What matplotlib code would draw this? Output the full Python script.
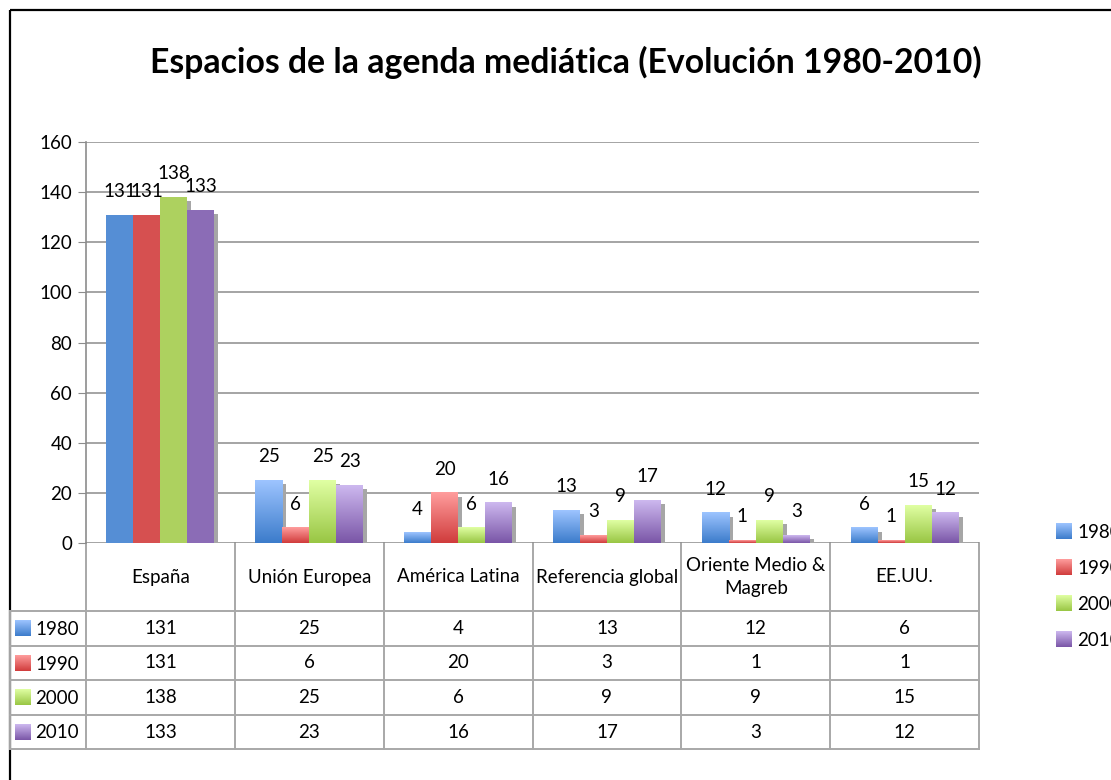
import numpy as np
import matplotlib
matplotlib.use("Agg")
import matplotlib.pyplot as plt
from matplotlib.colors import LinearSegmentedColormap
from matplotlib.patches import Rectangle

plt.rcParams['font.family'] = ['Lato', 'DejaVu Sans']

title = "Espacios de la agenda mediática (Evolución 1980-2010)"
categories = ["España", "Unión Europea", "América Latina", "Referencia global",
              "Oriente Medio &\nMagreb", "EE.UU."]
series_names = ["1980", "1990", "2000", "2010"]
v1980 = [131, 25, 4, 13, 12, 6]
v1990 = [131, 6, 20, 3, 1, 1]
v2000 = [138, 25, 6, 9, 9, 15]
v2010 = [133, 23, 16, 17, 3, 12]
series = [v1980, v1990, v2000, v2010]
yticks = [0, 20, 40, 60, 80, 100, 120, 140, 160]

solid = ["#558ED5", "#D65050", "#ADD15F", "#8B6CB6"]
grad_top = ["#9DC4FF", "#FF9D9D", "#E0FFA3", "#CDB8EF"]
grad_bot = ["#3C7CCB", "#D03C3C", "#99C644", "#7A56A7"]

FS = 13.5
W, H = 1111, 780
fig = plt.figure(figsize=(W / 100, H / 100), dpi=100)
fig.patch.set_facecolor("white")

# plot area in pixels
L, R, T, B = 86, 979, 142, 543
ax = fig.add_axes([L / W, 1 - B / H, (R - L) / W, (B - T) / H])
ax.set_facecolor("none")
ax.set_xlim(-0.5, 5.5)
ax.set_ylim(0, 160)
ax.set_yticks(yticks)
ax.set_xticks([])
for s in ["top", "right", "bottom"]:
    ax.spines[s].set_visible(False)
ax.spines["left"].set_color("#8C8C8C")
ax.spines["left"].set_linewidth(1.2)
ax.tick_params(axis="y", length=6, color="#8C8C8C", labelsize=FS, pad=4)
ax.yaxis.grid(True, color="#8C8C8C", lw=1.1)
ax.set_axisbelow(True)

bw = 27 / ((R - L) / 6)
x = np.arange(len(categories))
sdx = 4 / ((R - L) / 6)
sdy = 4 * 160 / (B - T)

# shadows
for k, vals in enumerate(series):
    xs = x + (k - 1.5) * bw + sdx
    ax.bar(xs, [max(v - sdy, 0) for v in vals], width=bw, color="#A6A6A6", zorder=2)

grad = np.linspace(0, 1, 100).reshape(-1, 1)
for k, vals in enumerate(series):
    xs = x + (k - 1.5) * bw
    cmap = LinearSegmentedColormap.from_list("g%d" % k, [grad_bot[k], grad_top[k]])
    bars = ax.bar(xs, vals, width=bw, color=solid[k], zorder=3, label=series_names[k])
    for i, p in enumerate(bars):
        if i > 0:
            p.set_alpha(0)
            ax.imshow(grad, extent=[p.get_x(), p.get_x() + p.get_width(), 0, p.get_height()],
                      origin="lower", cmap=cmap, aspect="auto", zorder=3)
        ax.annotate(str(vals[i]), (p.get_x() + p.get_width() / 2, p.get_height()),
                    xytext=(0, 17), textcoords="offset points", ha="center", va="center",
                    fontsize=FS, zorder=5)
ax.set_xlim(-0.5, 5.5)
ax.set_ylim(0, 160)

# overlay in pixel coordinates
ov = fig.add_axes([0, 0, 1, 1], zorder=-1)
ov.set_xlim(0, W)
ov.set_ylim(H, 0)
ov.axis("off")

# outer frame
ov.add_patch(Rectangle((10, 10), 1200, 900, fill=False, ec="black", lw=1.6))

ov.text(566, 62, title, ha="center", va="center", fontsize=24.3, fontweight="bold")

# data table
gc = "#A8A8A8"
cw = (R - L) / 6
rows = [543, 611, 646, 680, 715, 749]
for i in range(7):
    ov.plot([L + i * cw, L + i * cw], [543, 749], color=gc, lw=1.4)
ov.plot([10, 10], [611, 749], color=gc, lw=1.4)
for yy in rows[1:]:
    ov.plot([10, R], [yy, yy], color=gc, lw=1.4)
for i, c in enumerate(categories):
    ov.text(L + (i + 0.5) * cw, 577, c, ha="center", va="center", fontsize=FS,
            linespacing=1.45)
for k, vals in enumerate(series):
    yc = (rows[k + 1] + rows[k + 2]) / 2
    cmap = LinearSegmentedColormap.from_list("t%d" % k, [grad_bot[k], grad_top[k]])
    ov.imshow(grad, extent=[15, 31, yc + 8, yc - 8], origin="lower", cmap=cmap,
              aspect="auto", zorder=3)
    ov.text(35, yc + 1, series_names[k], ha="left", va="center", fontsize=FS)
    for i, v in enumerate(vals):
        ov.text(L + (i + 0.5) * cw, yc, str(v), ha="center", va="center", fontsize=FS)

# right legend
for k in range(4):
    yc = 531 + 36 * k
    cmap = LinearSegmentedColormap.from_list("l%d" % k, [grad_bot[k], grad_top[k]])
    ov.imshow(grad, extent=[1056, 1072, yc + 8, yc - 8], origin="lower", cmap=cmap,
              aspect="auto", zorder=3)
    ov.text(1077, yc + 1, series_names[k], ha="left", va="center", fontsize=FS)
ov.set_xlim(0, W)
ov.set_ylim(H, 0)

fig.savefig("out.png", dpi=100)
